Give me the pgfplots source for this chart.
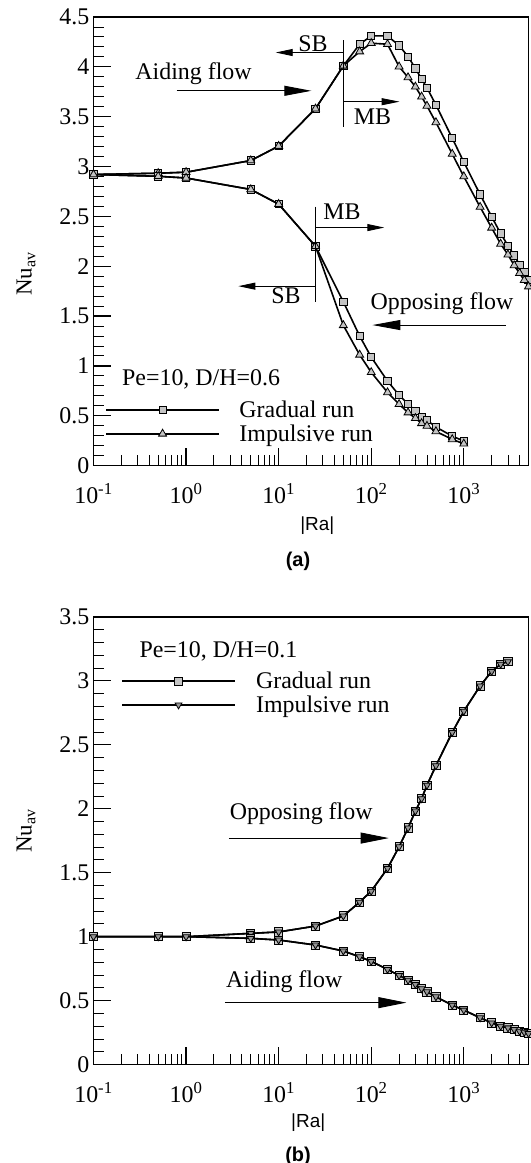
\documentclass[border=0pt]{standalone}
\usepackage{fontspec}
\setmainfont{Liberation Serif}
\setsansfont{Liberation Sans}
\usepackage{pgfplots}
\pgfplotsset{compat=1.18}
\usepackage{pgfplotstable}
\usetikzlibrary{arrows.meta}

\newcommand{\tf}{\fontsize{24}{28}\selectfont}
\definecolor{mk}{RGB}{196,196,196}
\definecolor{mkd}{RGB}{150,150,150}

% ---------- (a) D/H = 0.6 ----------
\pgfplotstableread{
Ra Nu
0.1 2.92
0.5 2.933
1 2.943
5 3.06
10 3.205
25 3.58
50 4.01
75 4.227
100 4.31
150 4.31
200 4.214
250 4.103
300 3.985
350 3.877
400 3.79
500 3.618
750 3.285
1000 3.045
1500 2.72
2000 2.497
2500 2.328
3000 2.207
3500 2.11
4000 2.015
4500 1.94
5000 1.86
}\GA
\pgfplotstableread{
Ra Nu
0.1 2.92
0.5 2.933
1 2.943
5 3.06
10 3.205
25 3.58
50 4.01
75 4.153
100 4.237
150 4.227
200 4.002
250 3.894
300 3.80
350 3.70
400 3.608
500 3.443
750 3.126
1000 2.90
1500 2.594
2000 2.385
2500 2.224
3000 2.116
3500 2.008
4000 1.93
4500 1.86
5000 1.796
}\IA
\pgfplotstableread{
Ra Nu
0.1 2.92
0.5 2.902
1 2.885
5 2.77
10 2.623
25 2.2
50 1.643
75 1.30
100 1.088
150 0.848
200 0.707
250 0.616
300 0.549
350 0.49
400 0.455
500 0.387
750 0.296
1000 0.246
}\GO
\pgfplotstableread{
Ra Nu
0.1 2.92
0.5 2.902
1 2.885
5 2.77
10 2.623
25 2.2
50 1.407
75 1.111
100 0.936
150 0.734
200 0.616
250 0.532
300 0.475
350 0.424
400 0.397
500 0.343
750 0.263
1000 0.219
}\IO

% ---------- (b) D/H = 0.1 ----------
\pgfplotstableread{
Ra Nu
0.1 1.0
0.5 1.0
1 1.0
5 1.026
10 1.037
25 1.083
50 1.162
75 1.27
100 1.356
150 1.534
200 1.703
250 1.85
300 1.982
350 2.079
400 2.184
500 2.337
750 2.597
1000 2.763
1500 2.96
2000 3.074
2500 3.13
3000 3.15
}\BO
\pgfplotstableread{
Ra Nu
0.1 1.0
0.5 1.0
1 1.0
5 0.987
10 0.974
25 0.935
50 0.888
75 0.843
100 0.807
150 0.744
200 0.697
250 0.66
300 0.627
350 0.593
400 0.569
500 0.53
750 0.465
1000 0.426
1500 0.366
2000 0.326
2500 0.30
3000 0.287
3500 0.274
4000 0.261
4500 0.253
5000 0.243
}\BA

\pgfplotsset{
  gr/.style={black, line width=1.6bp, mark=square*, mark size=3.65bp, mark options={fill=mk, line width=0.8bp}},
  im/.style={black, line width=1.6bp, mark=triangle*, mark size=4.6bp, mark options={fill=mk, line width=0.8bp}},
  legend image code/.code={\draw[mark repeat=2,mark phase=2,#1,line width=1.6bp] plot coordinates {(0bp,0bp) (56.2bp,0bp) (112.4bp,0bp)};},
}

\begin{document}
\begin{tikzpicture}
\useasboundingbox (-93.5bp,-697.4bp) rectangle (437.5bp,465.6bp);

% ================= (a) =================
\begin{axis}[scale only axis, width=435bp, height=448.6bp,
  at={(0bp,0bp)}, anchor=south west,
  xmode=log, log basis x=10, xmin=0.1, xmax=5000,
  ymin=0, ymax=4.5,
  tick align=inside, tick pos=left,
  major tick length=17.5bp, minor tick length=11bp,
  major tick style={line width=1.2bp, black},
  minor tick style={line width=0.9bp, black},
  axis line style={line width=1.4bp},
  xticklabel={10\textsuperscript{\pgfmathparse{int(round(\tick))}\pgfmathresult}},
  ticklabel style={font=\tf},
  xticklabel style={anchor=north, inner sep=0pt, yshift=-17.6bp},
  yticklabel style={anchor=east, inner sep=0pt, xshift=-4bp},
  minor y tick num=4,
  clip mode=individual,
  ytick={0,0.5,1,1.5,2,2.5,3,3.5,4,4.5},
  yticklabels={0,0.5,1,1.5,2,2.5,3,3.5,4,\raisebox{-6.8bp}{4.5}},
  legend cell align=left,
  legend style={at={(rel axis cs:0.0273,0.1495)}, anchor=north west, draw=none, fill=none,
    inner sep=0pt, column sep=17.9bp, row sep=2bp, font=\tf},
]
\addplot[gr] table[x=Ra,y=Nu] {\GA}; \addlegendentry{Gradual run}
\addplot[im] table[x=Ra,y=Nu] {\IA}; \addlegendentry{Impulsive run}
\addplot[gr, forget plot] table[x=Ra,y=Nu] {\GO};
\addplot[im, forget plot] table[x=Ra,y=Nu] {\IO};

% annotations
\node[font=\tf] at (rel axis cs:0.5047,0.9396) {SB};
\draw[line width=0.9bp] (rel axis cs:0.5749,0.9486) -- (rel axis cs:0.5749,0.7546);
\draw[line width=0.9bp, -{Triangle[length=17bp,width=7bp]}] (rel axis cs:0.5749,0.9208) -- (rel axis cs:0.4189,0.9208);
\node[font=\tf] at (rel axis cs:0.6412,0.7774) {MB};
\draw[line width=0.9bp, -{Triangle[length=18bp,width=7bp]}] (rel axis cs:0.5749,0.8112) -- (rel axis cs:0.7036,0.8112);
\node[font=\tf] at (rel axis cs:0.2301,0.8732) {Aiding flow};
\draw[line width=0.9bp, -{Triangle[length=27bp,width=10bp]}] (rel axis cs:0.1911,0.8355) -- (rel axis cs:0.5008,0.8355);

\node[font=\tf] at (rel axis cs:0.5710,0.5660) {MB};
\draw[line width=0.9bp] (rel axis cs:0.5101,0.5773) -- (rel axis cs:0.5101,0.3646);
\draw[line width=0.9bp, -{Triangle[length=17bp,width=7bp]}] (rel axis cs:0.5101,0.5306) -- (rel axis cs:0.6685,0.5306);
\node[font=\tf] at (rel axis cs:0.4423,0.3797) {SB};
\draw[line width=0.9bp, -{Triangle[length=17bp,width=7bp]}] (rel axis cs:0.5101,0.4000) -- (rel axis cs:0.3331,0.4000);
\node[font=\tf] at (rel axis cs:0.8011,0.3608) {Opposing flow};
\draw[line width=0.9bp, -{Triangle[length=28bp,width=10bp]}] (rel axis cs:0.9477,0.3133) -- (rel axis cs:0.6412,0.3133);

\node[font=\tf, anchor=base west, inner sep=0pt] at (rel axis cs:0.0655,0.1781) {Pe=10, D/H=0.6};
\end{axis}

% ================= (b) =================
\begin{axis}[scale only axis, width=435bp, height=447.7bp,
  at={(0bp,-599bp)}, anchor=south west,
  xmode=log, log basis x=10, xmin=0.1, xmax=5000,
  ymin=0, ymax=3.5,
  tick align=inside, tick pos=left,
  major tick length=17.5bp, minor tick length=11bp,
  major tick style={line width=1.2bp, black},
  minor tick style={line width=0.9bp, black},
  axis line style={line width=1.4bp},
  xticklabel={10\textsuperscript{\pgfmathparse{int(round(\tick))}\pgfmathresult}},
  ticklabel style={font=\tf},
  xticklabel style={anchor=north, inner sep=0pt, yshift=-17.6bp},
  yticklabel style={anchor=east, inner sep=0pt, xshift=-4bp},
  minor y tick num=4,
  clip mode=individual,
  ytick={0,0.5,1,1.5,2,2.5,3,3.5},
  yticklabels={0,0.5,1,1.5,2,2.5,3,\raisebox{-5bp}{3.5}},
  legend cell align=left,
  legend style={at={(rel axis cs:0.0640,0.8816)}, anchor=north west, draw=none, fill=none,
    inner sep=0pt, column sep=18.6bp, row sep=1.7bp, font=\tf},
]
\addplot[gr, mark size=4.1bp] table[x=Ra,y=Nu] {\BO}; \addlegendentry{Gradual run}
\addplot[im, mark size=4.0bp, mark options={fill=mkd, rotate=180, line width=0.8bp}] table[x=Ra,y=Nu] {\BO}; \addlegendentry{Impulsive run}
\addplot[gr, mark size=4.1bp, forget plot] table[x=Ra,y=Nu] {\BA};
\addplot[im, mark size=4.0bp, mark options={fill=mkd, rotate=180, line width=0.8bp}, forget plot] table[x=Ra,y=Nu] {\BA};

\node[font=\tf, anchor=base west, inner sep=0pt] at (rel axis cs:0.1053,0.9092) {Pe=10, D/H=0.1};
\node[font=\tf] at (rel axis cs:0.4774,0.5612) {Opposing flow};
\draw[line width=0.9bp, -{Triangle[length=28bp,width=11bp]}] (rel axis cs:0.3112,0.5060) -- (rel axis cs:0.6786,0.5060);
\node[font=\tf] at (rel axis cs:0.4384,0.1854) {Aiding flow};
\draw[line width=0.9bp, -{Triangle[length=28bp,width=11bp]}] (rel axis cs:0.3019,0.1384) -- (rel axis cs:0.7192,0.1384);
\end{axis}

% axis labels and panel captions
\node[rotate=90, anchor=base, font=\fontsize{23}{28}\selectfont, inner sep=0pt] at (-61.8bp,191.6bp) {Nu\textsubscript{av}};
\node[rotate=90, anchor=base, font=\fontsize{23}{28}\selectfont, inner sep=0pt] at (-61.8bp,-365.4bp) {Nu\textsubscript{av}};
\node[font=\sffamily\fontsize{19}{22}\selectfont] at (223.8bp,-59.9bp) {|Ra|};
\node[font=\sffamily\bfseries\fontsize{20}{24}\selectfont] at (204.5bp,-95.4bp) {(a)};
\node[font=\sffamily\fontsize{19}{22}\selectfont] at (214.7bp,-657.5bp) {|Ra|};
\node[font=\sffamily\bfseries\fontsize{20}{24}\selectfont] at (204.5bp,-690.4bp) {(b)};
\end{tikzpicture}
\end{document}
